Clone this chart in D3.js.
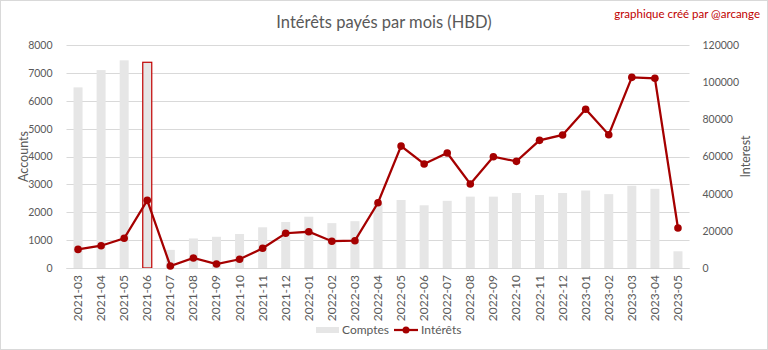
<!DOCTYPE html>
<html>
<head>
<meta charset="utf-8">
<script src="https://cdn.jsdelivr.net/npm/d3@7"></script>
<style>
  body { margin: 0; background: #fff; }
  svg { display: block; }
</style>
</head>
<body>
<svg id="chart" width="768" height="350"></svg>
<script>
// data
let months = ["2021-03","2021-04","2021-05","2021-06","2021-07","2021-08","2021-09","2021-10","2021-11","2021-12",
  "2022-01","2022-02","2022-03","2022-04","2022-05","2022-06","2022-07","2022-08","2022-09","2022-10","2022-11","2022-12",
  "2023-01","2023-02","2023-03","2023-04","2023-05"]
let accounts = [6480, 7100, 7450, 7380, 650, 1060, 1120, 1220, 1460, 1650,
  1840, 1610, 1680, 2330, 2440, 2250, 2410, 2560, 2560, 2690, 2620, 2690,
  2780, 2650, 2950, 2840, 600]
let interest = [10000, 12000, 16000, 36400, 1100, 5400, 2150, 4700, 10600, 18700,
  19500, 14400, 14700, 35100, 65600, 56000, 61900, 45200, 59900, 57400, 68700, 71600,
  85400, 71700, 102600, 102100, 21500]
let leftTicks = [0, 1000, 2000, 3000, 4000, 5000, 6000, 7000, 8000]
let rightTicks = [0, 20000, 40000, 60000, 80000, 100000, 120000]
let highlighted = ["2021-06"]

let W = 768, H = 350
let plotLeft = 66.5, plotRight = 689.5, plotTop = 45, plotBottom = 268
let font = "Lato"
let textGrey = "#595959"
let red = "#a50000"

let svg = d3.select("#chart")

// outer frame
svg.append("rect")
  .attr("x", 0.5).attr("y", 0.5)
  .attr("width", W - 1).attr("height", H - 1)
  .style("fill", "#fff")
  .style("stroke", "#d9d9d9");

let x = d3.scaleBand()
  .domain(months)
  .range([plotLeft, plotRight])

let yLeft = d3.scaleLinear()
  .domain([0, 8000])
  .range([plotBottom, plotTop])

let yRight = d3.scaleLinear()
  .domain([0, 120000])
  .range([plotBottom, plotTop])

// gridlines
svg.append("g")
  .selectAll("line")
  .data(leftTicks)
  .enter()
  .append("line")
  .attr("x1", plotLeft)
  .attr("x2", plotRight)
  .attr("y1", d => Math.round(yLeft(d)) + 0.5)
  .attr("y2", d => Math.round(yLeft(d)) + 0.5)
  .style("stroke", "#d9d9d9")
  .style("stroke-width", 1);

// left axis
let leftAxis = svg.append("g")
  .attr("transform", "translate(" + (plotLeft - 11) + ",0)")
  .call(d3.axisLeft(yLeft).tickValues(leftTicks).tickSize(0).tickFormat(d3.format("d")))
leftAxis.select(".domain").remove()
leftAxis.selectAll("text")
  .style("font-family", font)
  .style("font-size", "10.5px")
  .style("fill", textGrey);

// right axis
let rightAxis = svg.append("g")
  .attr("transform", "translate(" + (plotRight + 10) + ",0)")
  .call(d3.axisRight(yRight).tickValues(rightTicks).tickSize(0).tickFormat(d3.format("d")))
rightAxis.select(".domain").remove()
rightAxis.selectAll("text")
  .style("font-family", font)
  .style("font-size", "10.5px")
  .style("fill", textGrey);

// bars
let barW = 9
svg.append("g")
  .selectAll("rect")
  .data(months)
  .enter()
  .append("rect")
  .attr("x", (d, i) => x(d) + x.bandwidth() / 2 - barW / 2)
  .attr("y", (d, i) => yLeft(accounts[i]))
  .attr("width", barW)
  .attr("height", (d, i) => plotBottom - yLeft(accounts[i]))
  .style("fill", "#e6e6e6")
  .style("stroke", d => highlighted.includes(d) ? "#c00000" : "none")
  .style("stroke-width", 1.2);

// x axis baseline
svg.append("line")
  .attr("x1", plotLeft).attr("x2", plotRight)
  .attr("y1", plotBottom + 0.5).attr("y2", plotBottom + 0.5)
  .style("stroke", "#d9d9d9");

// x labels
svg.append("g")
  .selectAll("text")
  .data(months)
  .enter()
  .append("text")
  .attr("transform", d => "translate(" + (x(d) + x.bandwidth() / 2 + 4) + "," + (plotBottom + 7) + ") rotate(-90)")
  .attr("text-anchor", "end")
  .text(d => d)
  .style("font-family", font)
  .style("font-size", "12px")
  .style("fill", textGrey);

// line
let line = d3.line()
  .x((d, i) => x(months[i]) + x.bandwidth() / 2)
  .y(d => yRight(d))

svg.append("path")
  .datum(interest)
  .attr("d", line)
  .style("fill", "none")
  .style("stroke", red)
  .style("stroke-width", 2.25);

svg.append("g")
  .selectAll("circle")
  .data(interest)
  .enter()
  .append("circle")
  .attr("cx", (d, i) => x(months[i]) + x.bandwidth() / 2)
  .attr("cy", d => yRight(d))
  .attr("r", 3.8)
  .style("fill", red);

// titles
svg.append("text")
  .attr("x", 384).attr("y", 28)
  .attr("text-anchor", "middle")
  .text("Intérêts payés par mois (HBD)")
  .style("font-family", font)
  .style("font-size", "16.5px")
  .style("fill", textGrey);

svg.append("text")
  .attr("x", 760).attr("y", 18)
  .attr("text-anchor", "end")
  .text("graphique créé par @arcange")
  .style("font-family", font)
  .style("font-size", "11.5px")
  .style("fill", "#c00000");

svg.append("text")
  .attr("transform", "translate(28," + ((plotTop + plotBottom) / 2) + ") rotate(-90)")
  .attr("text-anchor", "middle")
  .text("Accounts")
  .style("font-family", font)
  .style("font-size", "12.5px")
  .style("fill", textGrey);

svg.append("text")
  .attr("transform", "translate(750," + ((plotTop + plotBottom) / 2) + ") rotate(-90)")
  .attr("text-anchor", "middle")
  .text("Interest")
  .style("font-family", font)
  .style("font-size", "12.5px")
  .style("fill", textGrey);

// legend
let legend = svg.append("g")
legend.append("rect")
  .attr("x", 316).attr("y", 327)
  .attr("width", 23).attr("height", 6)
  .style("fill", "#e6e6e6");
legend.append("text")
  .attr("x", 342).attr("y", 334)
  .text("Comptes")
  .style("font-family", font)
  .style("font-size", "12px")
  .style("fill", textGrey);
legend.append("line")
  .attr("x1", 394).attr("x2", 418)
  .attr("y1", 330).attr("y2", 330)
  .style("stroke", red)
  .style("stroke-width", 2.25);
legend.append("circle")
  .attr("cx", 406).attr("cy", 330)
  .attr("r", 3.5)
  .style("fill", red);
legend.append("text")
  .attr("x", 421).attr("y", 334)
  .text("Intérêts")
  .style("font-family", font)
  .style("font-size", "12px")
  .style("fill", textGrey);
</script>
</body>
</html>
